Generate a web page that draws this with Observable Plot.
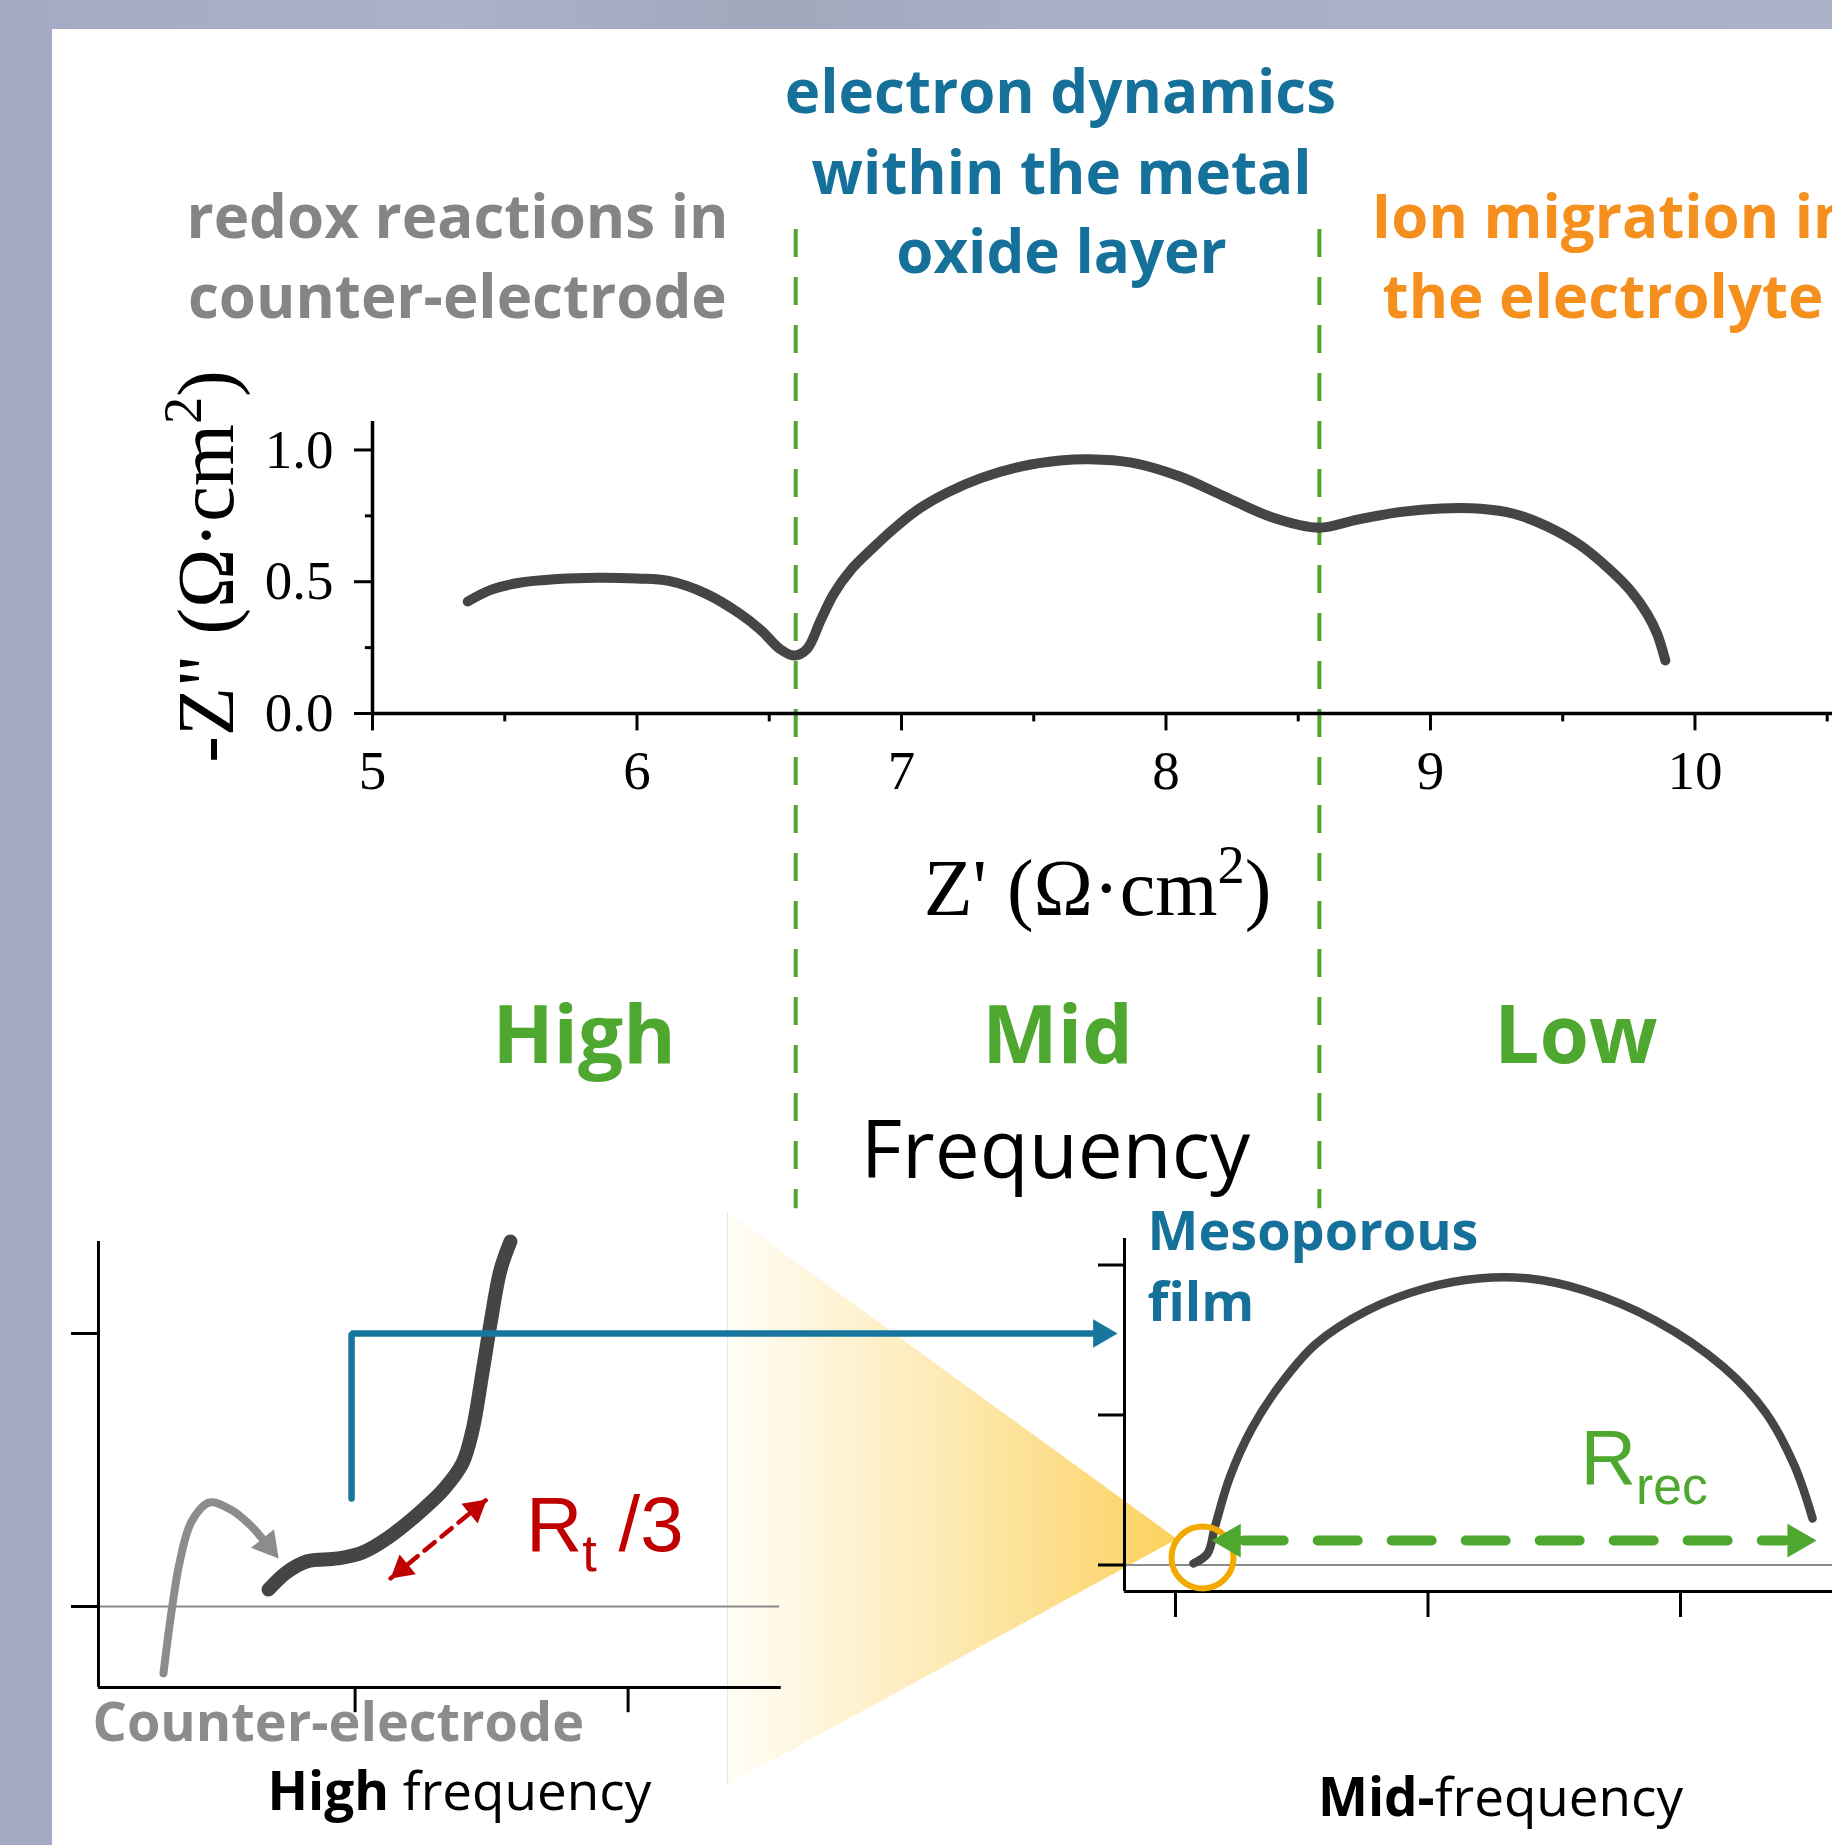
<!DOCTYPE html>
<html><head><meta charset="utf-8">
<script src="https://cdn.jsdelivr.net/npm/d3@7"></script>
<script src="https://cdn.jsdelivr.net/npm/@observablehq/plot@0.6"></script>
<style>
html,body{margin:0;padding:0;}
#fig{position:relative;width:1832px;height:1845px;overflow:hidden;
 background:linear-gradient(90deg,#a4aac3 0%,#abb1c9 25%,#a2a7bc 42%,#a9afc6 58%,#abb1c9 100%);}
#panel{position:absolute;left:52px;top:29px;right:0;bottom:0;background:#fff;}
#fig svg{position:absolute;left:0;top:0;}
#fig text{white-space:pre;}
</style></head><body><div id="fig"><div id="panel"></div></div>
<script>
// ---------------- data ----------------
// main Nyquist plot: Z' and -Z'' (Ω·cm²)
const zRe = [5.36, 5.45, 5.55, 5.70, 5.85, 6.00, 6.12, 6.26, 6.39, 6.47, 6.54, 6.593, 6.643, 6.694, 6.744, 6.807, 6.895, 6.971, 7.059, 7.173, 7.30, 7.45, 7.60, 7.71, 7.87, 8.05, 8.22, 8.40, 8.58, 8.72, 8.89, 9.04, 9.19, 9.315, 9.441, 9.567, 9.668, 9.756, 9.819, 9.857, 9.888];
const zIm = [0.425, 0.47, 0.495, 0.51, 0.515, 0.512, 0.503, 0.455, 0.378, 0.315, 0.245, 0.22, 0.245, 0.353, 0.454, 0.543, 0.631, 0.701, 0.772, 0.838, 0.893, 0.937, 0.96, 0.965, 0.952, 0.90, 0.824, 0.745, 0.705, 0.735, 0.765, 0.778, 0.777, 0.758, 0.71, 0.638, 0.555, 0.467, 0.378, 0.302, 0.201];
const xTicks = [5, 6, 7, 8, 9, 10];
const xMinorTicks = [5.5, 6.5, 7.5, 8.5, 9.5, 10.5];
const yTicks = [0, 0.5, 1.0];
const yTickLabels = ["0.0", "0.5", "1.0"];
const yMinorTicks = [0.25, 0.75];
const regionBounds = [6.6, 8.58];
const regionNames = ["High", "Mid", "Low"];
const xLabel = "Z' (Ω·cm^{2})";
const yLabel = "-Z\" (Ω·cm^{2})";
// high-frequency inset (counter-electrode), arbitrary units
const hfRe = [0.683, 0.749, 0.822, 0.936, 1.027, 1.122, 1.232, 1.327, 1.393, 1.430, 1.466, 1.496, 1.532, 1.569];
const hfIm = [0.062, 0.125, 0.165, 0.176, 0.198, 0.253, 0.341, 0.432, 0.524, 0.645, 0.853, 1.037, 1.231, 1.337];
const hfTicksX = [1, 2];
const hfTicksY = [0, 1];
const ceArrowRe = [0.298, 0.327, 0.357, 0.401, 0.467, 0.544, 0.617, 0.672];
const ceArrowIm = [-0.245, -0.022, 0.161, 0.311, 0.381, 0.355, 0.297, 0.234];
// mid-frequency inset (mesoporous film), arbitrary units
const mfRe = [0.071, 0.127, 0.156, 0.214, 0.301, 0.416, 0.558, 0.760, 0.990, 1.20, 1.40, 1.62, 1.90, 2.17, 2.337, 2.451, 2.523];
const mfIm = [0.01, 0.077, 0.253, 0.58, 0.906, 1.205, 1.477, 1.697, 1.845, 1.91, 1.91, 1.83, 1.63, 1.32, 1.017, 0.663, 0.31];
const mfTicksX = [0, 1, 2];
const mfTicksY = [0, 1, 2];

// ---------------- styling ----------------
const W = 1832, H = 1845;
const serif = "'Liberation Serif','Times New Roman',serif";
const sans = "'Open Sans','Noto Sans',sans-serif";
const arial = "'Liberation Sans',Arial,sans-serif";
const green = "#4ea72e", teal = "#16719a", grey = "#858585", orange = "#f5901e",
      red = "#c00000", curveCol = "#454545", blue = "#17759e";

function head(tip, angle, r, color) {
  const k = 1.555 * r, a = angle * Math.PI / 180;
  return Plot.dot([tip], {x: "x", y: "y", symbol: "triangle", r, rotate: angle,
    fill: color, stroke: "none", dx: -k * Math.sin(a), dy: k * Math.cos(a)});
}
function txt(s, x, y, o) {
  return Plot.text([s], Object.assign({x, y, text: d => d, lineAnchor: "bottom"}, o));
}
const base = {width: W, height: H, margin: 0, style: {background: "transparent", overflow: "visible"}};

// ---------------- main plot ----------------
const mainData = zRe.map((x, i) => ({x, y: zIm[i]}));
const edges = [5, ...regionBounds, 10.52];
const mids = regionNames.map((d, i) => (edges[i] + edges[i + 1]) / 2);
const headFont = {fontFamily: sans, fontWeight: 700, fontSize: 60};
const main = Plot.plot({...base,
  x: {domain: [5, 10.52], range: [372, 1832], axis: null},
  y: {domain: [0, 1.108], range: [713, 421], axis: null},
  marks: [
    Plot.ruleX(regionBounds, {y1: 1.837, y2: -1.879, stroke: green, strokeWidth: 4, strokeDasharray: "28,20"}),
    Plot.ruleY([0], {x1: 5, x2: 10.52, stroke: "#000", strokeWidth: 3.5}),
    Plot.ruleX([5], {y1: 0, y2: 1.108, stroke: "#000", strokeWidth: 3.5}),
    Plot.ruleX(xTicks, {y1: 0, y2: -0.066, stroke: "#000", strokeWidth: 3}),
    Plot.ruleX(xMinorTicks, {y1: 0, y2: -0.032, stroke: "#000", strokeWidth: 3}),
    Plot.ruleY(yTicks, {x1: 5, x2: 4.932, stroke: "#000", strokeWidth: 3}),
    Plot.ruleY(yMinorTicks, {x1: 5, x2: 4.973, stroke: "#000", strokeWidth: 3}),
    Plot.text(xTicks, {x: d => d, y: -0.285, text: d => String(d), lineAnchor: "bottom", fontFamily: serif, fontSize: 55, fill: "#000"}),
    Plot.text(yTicks, {x: 4.853, y: d => d, text: (d, i) => yTickLabels[i], textAnchor: "end", lineAnchor: "middle", fontFamily: serif, fontSize: 55, fill: "#000"}),
    txt(xLabel, 7.741, -0.763, {fontFamily: serif, fontSize: 80, fill: "#000"}),
    txt(yLabel, 4.474, 0.558, {fontFamily: serif, fontSize: 80, fill: "#000", rotate: -90}),
    Plot.line(mainData, {x: "x", y: "y", curve: "catmull-rom", stroke: curveCol, strokeWidth: 10, strokeLinecap: "round", strokeLinejoin: "round"}),
    // process annotations
    txt("electron dynamics", 7.601, 2.277, {...headFont, fill: teal}),
    txt("within the metal", 7.605, 1.973, {...headFont, fill: teal}),
    txt("oxide layer", 7.605, 1.670, {...headFont, fill: teal}),
    txt("redox reactions in", 5.321, 1.803, {...headFont, fill: grey}),
    txt("counter-electrode", 5.321, 1.499, {...headFont, fill: grey}),
    txt("Ion migration in", 8.777, 1.803, {...headFont, fill: orange, textAnchor: "start"}),
    txt("the electrolyte", 8.819, 1.499, {...headFont, fill: orange, textAnchor: "start"}),
    // frequency regions
    Plot.text(regionNames, {x: (d, i) => mids[i], y: -1.328, text: d => d, lineAnchor: "bottom", fontFamily: sans, fontWeight: 700, fontSize: 80, fill: green}),
    txt("Frequency", 7.582, -1.761, {fontFamily: sans, fontSize: 80, fill: "#000"})
  ]
});

// ---------------- zoom cone (in mid-frequency inset units) ----------------
const rScale = {x: {domain: [0, 1], range: [1175, 1427.5], axis: null}, y: {domain: [0, 1], range: [1564.5, 1414.5], axis: null}};
const cone = Plot.plot({...base, ...rScale,
  marks: [
    Plot.areaY([{x: -1.774, y1: -1.47, y2: 2.35}, {x: 0.008, y1: 0.17, y2: 0.17}], {x: "x", y1: "y1", y2: "y2", fill: "url(#coneGrad)"}),
    Plot.ruleX([-1.774], {y1: -1.47, y2: 2.35, stroke: "#e6e6e6", strokeWidth: 1.2})
  ]
});

// ---------------- high-frequency inset ----------------
const hfData = hfRe.map((x, i) => ({x, y: hfIm[i]}));
const ceData = ceArrowRe.map((x, i) => ({x, y: ceArrowIm[i]}));
const hf = Plot.plot({...base,
  x: {domain: [0, 1], range: [81.6, 354.6], axis: null},
  y: {domain: [0, 1], range: [1606, 1333], axis: null},
  marks: [
    Plot.ruleY([0], {x1: 0.06, x2: 2.555, stroke: "#8a8a8a", strokeWidth: 2}),
    Plot.ruleX([0.06], {y1: -0.297, y2: 1.337, stroke: "#000", strokeWidth: 3}),
    Plot.ruleY([-0.297], {x1: 0.06, x2: 2.561, stroke: "#000", strokeWidth: 3}),
    Plot.ruleY(hfTicksY, {x1: 0.06, x2: -0.039, stroke: "#000", strokeWidth: 3}),
    Plot.ruleX(hfTicksX, {y1: -0.297, y2: -0.389, stroke: "#000", strokeWidth: 3}),
    Plot.line(ceData, {x: "x", y: "y", curve: "catmull-rom", stroke: "#8c8c8c", strokeWidth: 8}),
    head({x: 0.720, y: 0.176}, 141, 11, "#8c8c8c"),
    Plot.line(hfData, {x: "x", y: "y", curve: "catmull-rom", stroke: curveCol, strokeWidth: 14, strokeLinecap: "round", strokeLinejoin: "round"}),
    Plot.line([{x: 1.130, y: 0.103}, {x: 1.482, y: 0.392}], {x: "x", y: "y", stroke: red, strokeWidth: 4.5, strokeDasharray: "13,9"}),
    head({x: 1.130, y: 0.103}, 230.5, 9.5, red),
    head({x: 1.482, y: 0.392}, 50.5, 9.5, red),
    Plot.line([{x: 0.987, y: 0.396}, {x: 0.987, y: 1.0}, {x: 3.70, y: 1.0}], {x: "x", y: "y", stroke: blue, strokeWidth: 6.5, strokeLinejoin: "miter"}),
    head({x: 3.793, y: 1.0}, 90, 10.5, blue),
    txt("R_{t} /3", 1.626, 0.205, {fontFamily: arial, fontSize: 78, fill: red, textAnchor: "start"}),
    txt("Counter-electrode", 0.038, -0.491, {fontFamily: sans, fontWeight: 700, fontSize: 54, fill: "#8c8c8c", textAnchor: "start"}),
    txt("**High** frequency", 1.382, -0.744, {fontFamily: sans, fontSize: 53, fill: "#000"})
  ]
});

// ---------------- mid-frequency inset ----------------
const mfData = mfRe.map((x, i) => ({x, y: mfIm[i]}));
const mf = Plot.plot({...base, ...rScale,
  marks: [
    Plot.ruleY([0], {x1: -0.202, x2: 2.62, stroke: "#8a8a8a", strokeWidth: 2}),
    Plot.ruleX([-0.202], {y1: -0.177, y2: 2.177, stroke: "#000", strokeWidth: 3}),
    Plot.ruleY([-0.177], {x1: -0.202, x2: 2.62, stroke: "#000", strokeWidth: 3}),
    Plot.ruleY(mfTicksY, {x1: -0.202, x2: -0.305, stroke: "#000", strokeWidth: 3}),
    Plot.ruleX(mfTicksX, {y1: -0.177, y2: -0.35, stroke: "#000", strokeWidth: 3}),
    Plot.line(mfData, {x: "x", y: "y", curve: "catmull-rom", stroke: curveCol, strokeWidth: 8.5, strokeLinecap: "round", strokeLinejoin: "round"}),
    Plot.dot([{x: 0.107, y: 0.05}], {x: "x", y: "y", r: 31, stroke: "#f2a900", strokeWidth: 6, fill: "none"}),
    Plot.line([{x: 0.27, y: 0.163}, {x: 2.415, y: 0.163}], {x: "x", y: "y", stroke: green, strokeWidth: 10, strokeDasharray: "40,34"}),
    head({x: 0.143, y: 0.163}, 270, 12.5, green),
    head({x: 2.539, y: 0.163}, 90, 12.5, green),
    txt("R_{rec}", 1.604, 0.537, {fontFamily: arial, fontSize: 77, fill: green, textAnchor: "start"}),
    txt("Mesoporous", -0.111, 2.097, {fontFamily: sans, fontWeight: 700, fontSize: 54, fill: teal, textAnchor: "start"}),
    txt("film", -0.111, 1.63, {fontFamily: sans, fontWeight: 700, fontSize: 54, fill: teal, textAnchor: "start"}),
    txt("**Mid-**frequency", 1.287, -1.67, {fontFamily: sans, fontSize: 53, fill: "#000"})
  ]
});

const fig = document.getElementById("fig");
[main, cone, hf, mf].forEach(s => fig.appendChild(s));

// gradient for the zoom cone
d3.select(cone).insert("defs", ":first-child").html(
  '<linearGradient id="coneGrad" x1="0" x2="1" y1="0" y2="0">' +
  '<stop offset="0" stop-color="#fffdf6"/><stop offset="0.5" stop-color="#fde9b2"/>' +
  '<stop offset="1" stop-color="#fcd15d"/></linearGradient>');

// rich text: **bold**, ^{sup}, _{sub}
function richify(svg) {
  d3.select(svg).selectAll("text").each(function () {
    const t = this.textContent;
    if (!/(\*\*|\^\{|_\{)/.test(t)) return;
    const F = parseFloat(getComputedStyle(this).fontSize) || 16;
    const parts = t.split(/(\*\*[^*]+\*\*|\^\{[^}]*\}|_\{[^}]*\})/).filter(s => s !== "");
    this.textContent = "";
    let shift = 0;
    for (const p of parts) {
      let s = p, size = null, weight = null, target = 0;
      if (p.startsWith("**")) { s = p.slice(2, -2); weight = 700; }
      else if (p.startsWith("^{")) { s = p.slice(2, -1); size = 0.68 * F; target = -0.4 * F; }
      else if (p.startsWith("_{")) { s = p.slice(2, -1); size = 0.67 * F; target = 0.26 * F; }
      const ts = d3.select(this).append("tspan");
      const dy = target - shift; shift = target;
      if (dy) ts.attr("dy", dy);
      if (size) ts.attr("font-size", size);
      if (weight) ts.attr("font-weight", weight);
      ts.text(s);
    }
  });
}
[main, hf, mf].forEach(richify);
</script></body></html>
